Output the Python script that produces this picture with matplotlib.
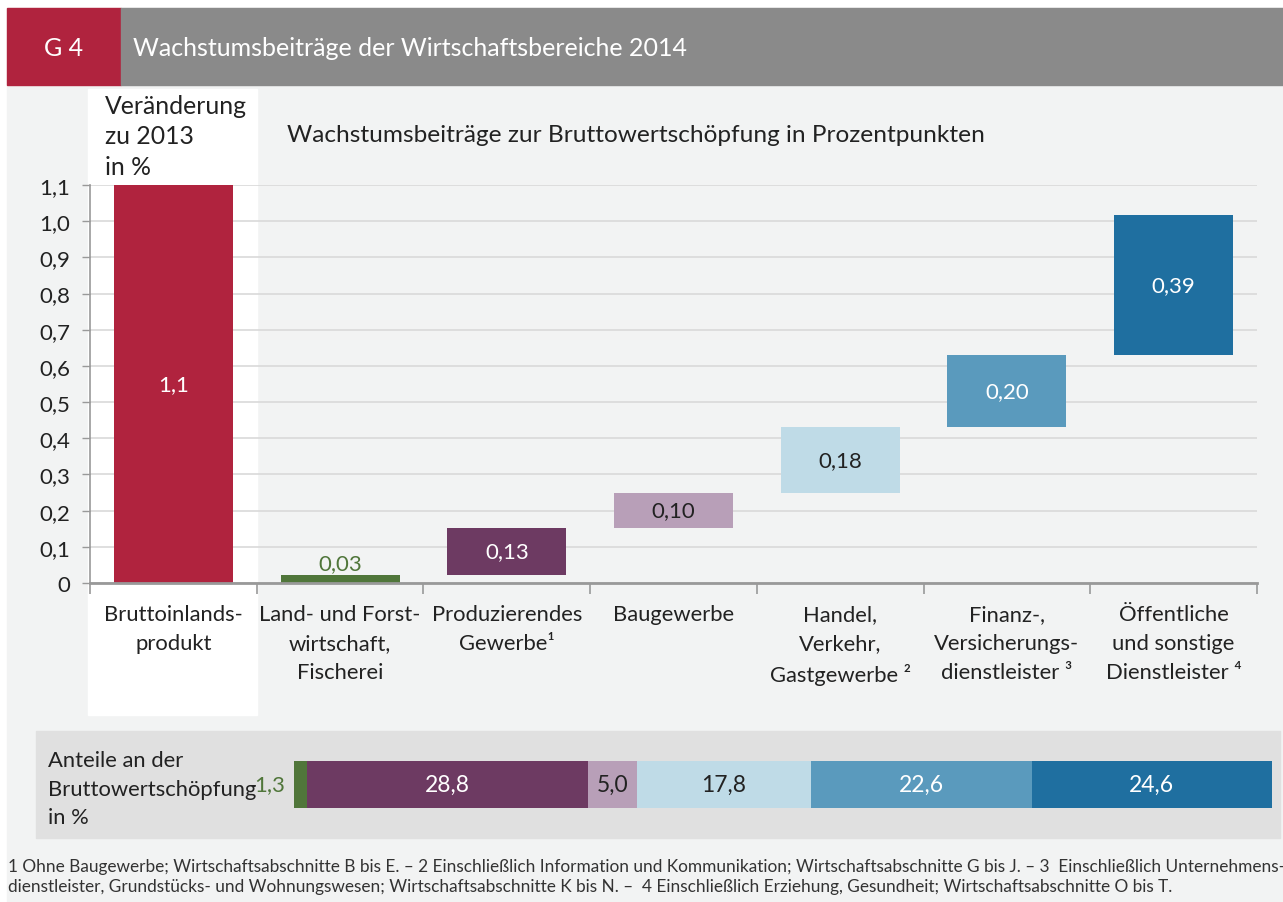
import matplotlib.pyplot as plt
from matplotlib.patches import Rectangle

plt.rcParams['font.family'] = ['Lato', 'DejaVu Sans']

W, H = 1283, 903

# data
categories = ["Bruttoinlands-\nprodukt", "Land- und Forst-\nwirtschaft,\nFischerei",
              "Produzierendes\nGewerbe¹", "Baugewerbe", "Handel,\nVerkehr,\nGastgewerbe ²",
              "Finanz-,\nVersicherungs-\ndienstleister ³", "Öffentliche\nund sonstige\nDienstleister ⁴"]
bip = 1.1
bip_label = "1,1"
contrib = [0.022, 0.130, 0.097, 0.182, 0.199, 0.387]
contrib_labels = ["0,03", "0,13", "0,10", "0,18", "0,20", "0,39"]
shares = [1.3, 28.8, 5.0, 17.8, 22.6, 24.6]
share_labels = ["1,3", "28,8", "5,0", "17,8", "22,6", "24,6"]
yticks = [0, 0.1, 0.2, 0.3, 0.4, 0.5, 0.6, 0.7, 0.8, 0.9, 1.0, 1.1]
ytick_labels = ["0", "0,1", "0,2", "0,3", "0,4", "0,5", "0,6", "0,7", "0,8", "0,9", "1,0", "1,1"]

red = "#b0233e"
colors = ["#50763a", "#6d3a62", "#b89fb8", "#bfdbe7", "#5a9abd", "#1f6fa0"]
text_cols = [None, "white", "#222222", "#222222", "white", "white"]
bg = "#f2f3f3"
txt = "#222222"


def fx(x):
    return x / W


def fy(y):
    return 1 - y / H


def rect(x0, y0, x1, y1, color):
    fig.patches.append(Rectangle((fx(x0), fy(y1)), fx(x1) - fx(x0), fy(y0) - fy(y1),
                                 transform=fig.transFigure, color=color, zorder=-1))


fig = plt.figure(figsize=(W / 100, H / 100), dpi=100)
fig.patch.set_facecolor("white")

# backgrounds / header
rect(7, 9, W, H, bg)
rect(7, 9, 121, 86, red)
rect(121, 9, W, 86, "#8a8a8a")
rect(88, 90, 257, 716, "white")
rect(36, 732, 1280, 839, "#e0e0e0")

fig.text(fx(64), fy(48), "G 4", color="white", fontsize=18, ha="center", va="center")
fig.text(fx(133), fy(48), "Wachstumsbeiträge der Wirtschaftsbereiche 2014", color="white",
         fontsize=18, ha="left", va="center")
fig.text(fx(105), fy(175), "Veränderung\nzu 2013\nin %", color=txt, fontsize=17.8,
         ha="left", va="baseline", linespacing=1.4)
fig.text(fx(287), fy(135), "Wachstumsbeiträge zur Bruttowertschöpfung in Prozentpunkten",
         color=txt, fontsize=17.6, ha="left", va="center")

# main chart
ax = fig.add_axes([fx(90), fy(584), fx(1257) - fx(90), fy(186) - fy(584)])
ax.patch.set_alpha(0)
ax.set_xlim(-0.5, 6.5)
ax.set_ylim(0, 1.1)
bw = 0.714

ax.bar(0, bip, width=bw, color=red, zorder=3)
ax.text(0, bip / 2, bip_label, color="white", fontsize=16, ha="center", va="center", zorder=4)

bottom = 0
for i, v in enumerate(contrib):
    ax.bar(i + 1, v, bottom=bottom, width=bw, color=colors[i], zorder=3)
    if text_cols[i] is None:
        ax.text(i + 1, bottom + v + 0.004, contrib_labels[i], color=colors[i], fontsize=16,
                ha="center", va="bottom", zorder=4)
    else:
        ax.text(i + 1, bottom + v / 2, contrib_labels[i], color=text_cols[i], fontsize=16,
                ha="center", va="center", zorder=4)
    bottom += v

ax.set_yticks(yticks)
ax.set_yticklabels(ytick_labels, fontsize=16, color=txt)
ax.yaxis.grid(True, color="#d9d9d9", linewidth=1.2, zorder=0)
ax.set_axisbelow(True)
ax.tick_params(axis="y", length=6, width=1, color="#999999", pad=8)
ax.set_xticks([i - 0.5 for i in range(8)])
ax.set_xticklabels([])
ax.tick_params(axis="x", direction="out", length=8, width=1.2, color="#999999")
for s in ["top", "right"]:
    ax.spines[s].set_visible(False)
ax.spines["left"].set_color("#999999")
ax.spines["left"].set_linewidth(1.2)
ax.spines["bottom"].set_color("#999999")
ax.spines["bottom"].set_linewidth(2)
ax.spines["bottom"].set_zorder(5)

# category labels under the axis
for i, c in enumerate(categories):
    ax.text(i, -0.058, c, ha="center", va="top", fontsize=15.8, color=txt, linespacing=1.55)

# shares bar
ax2 = fig.add_axes([fx(294), fy(809), fx(1272) - fx(294), fy(762) - fy(809)])
ax2.set_xlim(0, sum(shares))
ax2.set_ylim(0, 1)
ax2.axis("off")
left = 0
for i, v in enumerate(shares):
    ax2.barh(0.5, v, left=left, height=1, color=colors[i])
    if text_cols[i] is None:
        ax2.text(left - 0.9, 0.5, share_labels[i], color=colors[i], fontsize=16,
                 ha="right", va="center")
    else:
        ax2.text(left + v / 2, 0.5, share_labels[i], color=text_cols[i], fontsize=16.5,
                 ha="center", va="center")
    left += v

fig.text(fx(48), fy(824), "Anteile an der\nBruttowertschöpfung\nin %", color=txt, fontsize=15.8,
         ha="left", va="baseline", linespacing=1.52)

foot = ("1 Ohne Baugewerbe; Wirtschaftsabschnitte B bis E. – 2 Einschließlich Information und "
        "Kommunikation; Wirtschaftsabschnitte G bis J. – 3  Einschließlich Unternehmens-\n"
        "dienstleister, Grundstücks- und Wohnungswesen; Wirtschaftsabschnitte K bis N. –  "
        "4 Einschließlich Erziehung, Gesundheit; Wirtschaftsabschnitte O bis T.")
fig.text(fx(8), fy(892), foot, color="#333333", fontsize=12.4, ha="left", va="baseline",
         linespacing=1.3)

fig.savefig("out.png", dpi=100, facecolor=fig.get_facecolor())
